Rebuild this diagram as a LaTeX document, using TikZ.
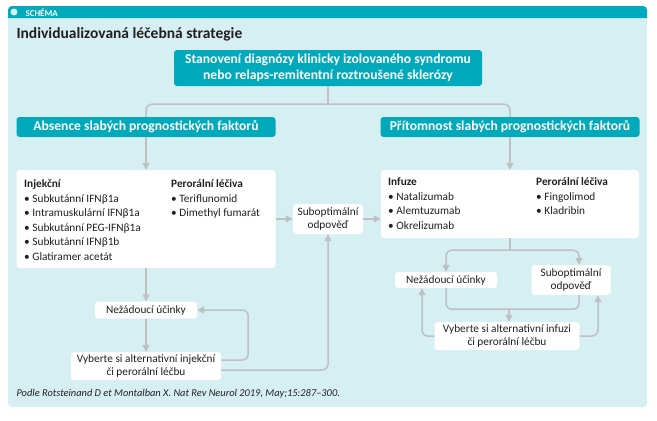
\documentclass[tikz,border=0pt]{standalone}
\usepackage{fontspec}
\setmainfont{Carlito}
\usetikzlibrary{positioning, arrows.meta, calc}
\definecolor{hdrTeal}{RGB}{0,170,187}
\definecolor{panelBg}{RGB}{214,239,243}
\definecolor{lnGray}{RGB}{190,192,194}
\definecolor{txtDark}{RGB}{35,31,32}
\tikzset{
  every node/.style={font=\fontsize{11.3}{12.5}\selectfont, text=txtDark},
  B/.style={rounded corners=3pt, inner sep=2pt, align=center},
  HEAD/.style={B, fill=hdrTeal, text=white, font=\fontsize{13.6}{16}\selectfont\bfseries},
  WB/.style={B, fill=white},
  LIST/.style={anchor=north west, align=left, inner sep=0pt, font=\fontsize{11.3}{14.5}\selectfont},
  LN/.style={draw=lnGray, line width=1.5pt},
  AR/.style={LN, -{Triangle[length=7pt, width=7pt]}},
}
\newcommand{\bul}{\textbullet\ }

\begin{document}
\begin{tikzpicture}[x=1pt, y=1pt, yscale=-1]

\useasboundingbox (0,0) rectangle (657,421);

%% ═══════════════════════════════════════════════════════════════════════════
%%  Panel frame
%% ═══════════════════════════════════════════════════════════════════════════

\fill[panelBg, rounded corners=4pt] (8,6) rectangle (647,407);
\fill[hdrTeal] (8,18) {[rounded corners=4pt] -- (8,6) -- (647,6)} -- (647,18) -- cycle;
\fill[panelBg] (14,12) circle (3.5);
\node[anchor=west, text=white, font=\fontsize{9}{10}\selectfont\bfseries] (SCH) at (22,12.5) {SCHÉMA};
\node[anchor=west, font=\fontsize{15.5}{17}\selectfont\bfseries] (TTL) at (13,34) {Individualizovaná léčebná strategie};

%% ═══════════════════════════════════════════════════════════════════════════
%%  Boxes
%% ═══════════════════════════════════════════════════════════════════════════

\node[HEAD, minimum width=308pt, minimum height=36pt] (DIAG) at (328,68)
  {Stanovení diagnózy klinicky izolovaného syndromu\\nebo relaps-remitentní roztroušené sklerózy};
\node[HEAD, minimum width=259pt, minimum height=20pt] (ABS) at (146,127)
  {Absence slabých prognostických faktorů};
\node[HEAD, minimum width=259pt, minimum height=20pt] (PRI) at (510,127)
  {Přítomnost slabých prognostických faktorů};

\node[WB, minimum width=259pt, minimum height=98pt] (LBOX) at (146,219) {};
\node[LIST] (INJ) at (24,179.5)
  {\textbf{Injekční}\\\bul Subkutánní IFNβ1a\\\bul Intramuskulární IFNβ1a\\\bul Subkutánní PEG-IFNβ1a\\\bul Subkutánní IFNβ1b\\\bul Glatiramer acetát};
\node[LIST] (LPO) at (171,179.5)
  {\textbf{Perorální léčiva}\\\bul Teriflunomid\\\bul Dimethyl fumarát};

\node[WB, minimum width=258pt, minimum height=68pt] (RBOX) at (510,204) {};
\node[LIST] (INF) at (388,177.5)
  {\textbf{Infuze}\\\bul Natalizumab\\\bul Alemtuzumab\\\bul Okrelizumab};
\node[LIST] (RPO) at (536,177.5)
  {\textbf{Perorální léčiva}\\\bul Fingolimod\\\bul Kladribin};

\node[WB, minimum width=70pt, minimum height=30pt] (SUBM) at (328,219) {Suboptimální\\odpověď};

\node[WB, minimum width=102pt, minimum height=17pt] (LNEZ) at (146,310) {Nežádoucí účinky};
\node[WB, minimum width=150pt, minimum height=28pt] (LALT) at (146,366)
  {Vyberte si alternativní injekční\\či perorální léčbu};

\node[WB, minimum width=102pt, minimum height=16pt] (RNEZ) at (446,280) {Nežádoucí účinky};
\node[WB, minimum width=79pt, minimum height=30pt] (RSUB) at (571,280) {Suboptimální\\odpověď};
\node[WB, minimum width=145pt, minimum height=28pt] (RALT) at (507,336)
  {Vyberte si alternativní infuzi\\či perorální léčbu};

\node[anchor=west, font=\fontsize{10.4}{12}\selectfont\itshape] (SRC) at (13,394)
  {Podle Rotsteinand D et Montalban X. Nat Rev Neurol 2019, May;15:287–300.};

%% ═══════════════════════════════════════════════════════════════════════════
%%  Connectors
%% ═══════════════════════════════════════════════════════════════════════════

\coordinate (split) at ($(DIAG.south)+(0,18)$);
\draw[LN] (DIAG.south) -- (split);
\draw[LN, rounded corners=6pt] (ABS.north) |- (split) -| (PRI.north);
\draw[AR] (ABS.south) -- (LBOX.north);
\draw[AR] (PRI.south) -- (RBOX.north);

\draw[AR] (LBOX.east) -- (SUBM.west);
\draw[AR] (SUBM.east) -- (SUBM.east -| RBOX.west);

% left branch
\draw[AR] (LBOX.south) -- (LNEZ.north);
\draw[AR] (LNEZ.south) -- (LALT.north);
\draw[AR, rounded corners=6pt] ($(LALT.east)+(0,-6)$) -| ($(LNEZ.east)+(51,0)$) -- (LNEZ.east);
\draw[AR, rounded corners=6pt] ($(LALT.east)+(0,4)$) -| (SUBM.south);

% right branch
\coordinate (rsplit) at ($(RBOX.south)+(0,12)$);
\draw[LN] (RBOX.south) -- (rsplit);
\draw[AR, rounded corners=6pt] (rsplit) -| (RNEZ.north);
\draw[AR, rounded corners=6pt] (rsplit) -| ($(RSUB.north)+(8,0)$);
\draw[LN, rounded corners=6pt] (RNEZ.south) -- ++(0,21) -| ($(RSUB.south)+(8,0)$);
\draw[AR] ($(RALT.north)+(2,-13)$) -- ($(RALT.north)+(2,0)$);
\draw[AR, rounded corners=6pt] (RALT.west) -| ($(RNEZ.south)+(-24,0)$);
\draw[AR, rounded corners=6pt] (RALT.east) -| ($(RSUB.south)+(27,0)$);

\end{tikzpicture}
\end{document}
